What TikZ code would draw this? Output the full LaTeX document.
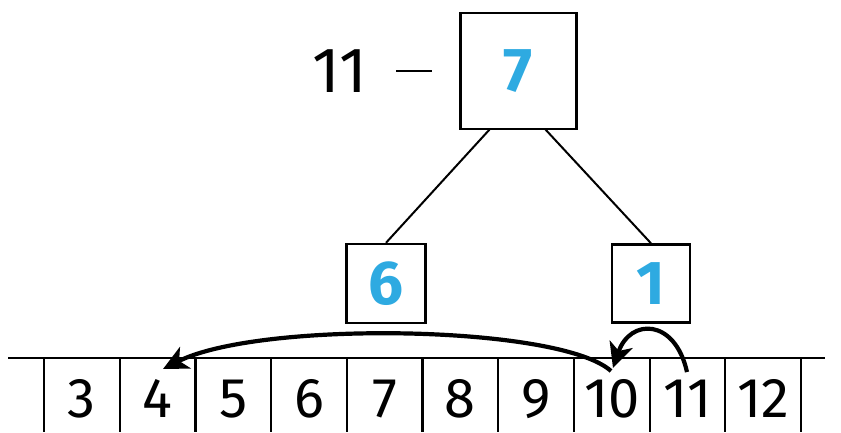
\documentclass[tikz,border=0pt]{standalone}
\usepackage{fontspec}
\setmainfont{Fira Sans}
\usetikzlibrary{arrows.meta}
\definecolor{numblue}{HTML}{2EAAE1}
\begin{document}
\begin{tikzpicture}[x=1pt,y=-1pt,
  box/.style={draw,line width=2.4pt,minimum width=#1,minimum height=#1,inner sep=0pt,font=\fontsize{62}{62}\selectfont\bfseries,text=numblue},
  cell/.style={font=\fontsize{56}{56}\selectfont,anchor=base,inner sep=0pt},
  tree/.style={line width=2pt},
  axis/.style={line width=2.2pt},
  hop/.style={line width=4.2pt,-{Stealth[length=25pt,width=24pt,inset=7pt]}}]
\useasboundingbox (0,0) rectangle (841,432);
\node[box=116pt] (top) at (518.5,71) {7};
\node[box=79pt] (six) at (386,283.5) {6};
\node[box=78pt] (one) at (651,283.5) {1};
\node[font=\fontsize{64}{64}\selectfont,anchor=base,inner sep=0pt] (eleven) at (340,92) {11};
\node[inner sep=0pt] (dash) at (414,71) {\rule{36pt}{2.6pt}};
\draw[tree] (490,129) -- (six.north);
\draw[tree] (545,129) -- (one.north);
\coordinate (L) at (8,358);
\coordinate (R) at (825,358);
\draw[axis] (L) -- (R);
\foreach \i in {0,...,10}{
  \draw[axis] (44+75.7*\i,358) -- (44+75.7*\i,432);
}
\foreach \n [count=\i from 0] in {3,...,12}{
  \node[cell] (c\n) at (81.85+75.7*\i,417) {\n};
}
\coordinate (s10) at (611,371);
\coordinate (e4) at (163,369);
\coordinate (s11) at (687,372);
\coordinate (e10) at (613,368);
\draw[hop] (s10) .. controls (560,325) and (260,320) .. (e4);
\draw[hop] (s11) .. controls (675,318) and (630,318) .. (e10);
\end{tikzpicture}
\end{document}
